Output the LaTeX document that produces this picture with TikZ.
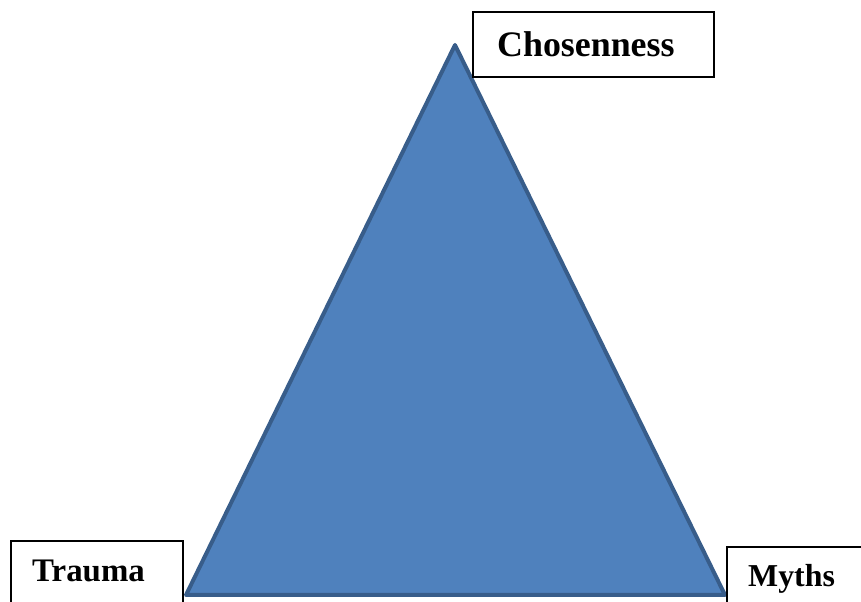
\documentclass[tikz,border=0pt]{standalone}
\usepackage{fontspec}
\setmainfont{Liberation Serif}
\definecolor{triFill}{HTML}{4F81BD}
\definecolor{triLine}{HTML}{385D8A}
\tikzset{
  labelbox/.style={draw=black, line width=2bp, fill=white},
  labeltext/.style={font=\bfseries, inner sep=0pt, anchor=base west},
}
\begin{document}
\begin{tikzpicture}[x=1bp,y=1bp]
\useasboundingbox (0,0) rectangle (861,602);
\clip (0,0) rectangle (861,602);
% triangle
\coordinate (apex) at (455,557);
\coordinate (bl) at (186,7);
\coordinate (br) at (725,7);
\filldraw[fill=triFill, draw=triLine, line width=4bp, line join=round] (apex) -- (bl) -- (br) -- cycle;
% boxes
\draw[labelbox] (473,590) rectangle (714,525);
\draw[labelbox] (11,61) rectangle (183,-10);
\draw[labelbox] (727,55) rectangle (875,-10);
% texts
\node[labeltext, font=\fontsize{36}{40}\selectfont\bfseries] (chosen) at (497,545) {Chosenness};
\node[labeltext, font=\fontsize{33}{38}\selectfont\bfseries] (trauma) at (32,20) {Trauma};
\node[labeltext, font=\fontsize{32}{36}\selectfont\bfseries] (myths) at (748,15) {Myths};
\end{tikzpicture}
\end{document}
